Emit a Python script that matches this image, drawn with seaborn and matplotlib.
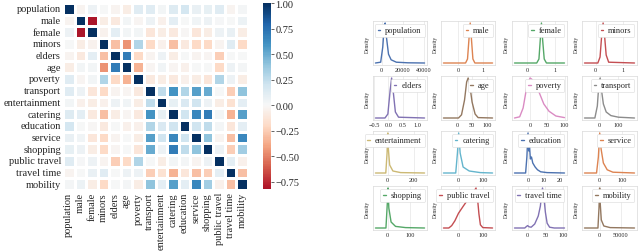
import numpy as np
import pandas as pd
import matplotlib
matplotlib.use("Agg")
import matplotlib.pyplot as plt
import seaborn as sns

labels = ["population", "male", "female", "minors", "elders", "age", "poverty",
          "transport", "entertainment", "catering", "education", "service",
          "shopping", "public travel", "travel time", "mobility"]

# correlation rows
r_population = [1, -0.03, 0.05, 0.0, -0.03, -0.07, 0.12, 0.12, 0.03, 0.13, 0.18, 0.07, 0.08, 0.12, -0.03, 0.02]
r_male = [-0.03, 1, -0.82, -0.08, -0.1, 0.03, -0.02, 0.05, -0.05, 0.1, 0.0, 0.04, 0.05, 0.01, 0.0, 0.06]
r_female = [0.05, -0.82, 1, -0.04, 0.1, 0.03, 0.03, -0.12, -0.08, -0.1, -0.01, -0.12, -0.07, 0.05, 0.07, -0.08]
r_minors = [0.0, -0.08, -0.04, 1, -0.3, -0.45, 0.3, -0.2, -0.05, -0.3, -0.1, -0.2, -0.2, -0.03, 0.12, -0.2]
r_elders = [-0.03, -0.1, 0.1, -0.3, 1, 0.7, -0.2, -0.03, 0.05, -0.07, 0.0, -0.03, -0.02, -0.25, 0.0, 0.0]
r_age = [-0.07, 0.03, 0.03, -0.45, 0.7, 1, -0.35, -0.02, 0.04, -0.02, -0.05, 0.0, 0.0, -0.2, 0.05, 0.02]
r_poverty = [0.12, -0.02, 0.03, 0.3, -0.2, -0.35, 1, -0.1, -0.07, -0.1, -0.05, -0.08, -0.12, 0.3, 0.05, -0.08]
r_transport = [0.12, 0.05, -0.12, -0.2, -0.03, -0.02, -0.1, 1, 0.25, 0.6, 0.3, 0.55, 0.5, 0.0, -0.25, 0.4]
r_entertainment = [0.03, -0.05, -0.08, -0.05, 0.05, 0.04, -0.07, 0.25, 1, 0.08, 0.15, 0.2, 0.05, -0.07, -0.15, 0.1]
r_catering = [0.13, 0.1, -0.1, -0.3, -0.07, -0.02, -0.1, 0.6, 0.08, 1, 0.2, 0.65, 0.7, 0.03, -0.35, 0.55]
r_education = [0.18, 0.0, -0.01, -0.1, 0.0, -0.05, -0.05, 0.3, 0.15, 0.2, 1, 0.2, 0.25, 0.02, -0.12, 0.1]
r_service = [0.07, 0.04, -0.12, -0.2, -0.03, 0.0, -0.08, 0.55, 0.2, 0.65, 0.2, 1, 0.4, -0.03, -0.3, 0.65]
r_shopping = [0.08, 0.05, -0.07, -0.2, -0.02, 0.0, -0.12, 0.5, 0.05, 0.7, 0.25, 0.4, 1, 0.05, -0.25, 0.35]
r_public_travel = [0.12, 0.01, 0.05, -0.03, -0.25, -0.2, 0.3, 0.0, -0.07, 0.03, 0.02, -0.03, 0.05, 1, 0.1, -0.05]
r_travel_time = [-0.03, 0.0, 0.07, 0.12, 0.0, 0.05, 0.05, -0.25, -0.15, -0.35, -0.12, -0.3, -0.25, 0.1, 1, -0.3]
r_mobility = [0.02, 0.06, -0.08, -0.2, 0.0, 0.02, -0.08, 0.4, 0.1, 0.55, 0.1, 0.65, 0.35, -0.05, -0.3, 1]

# density curves (x, relative density)
population_x = [-6000, -1000, 1000, 2500, 3300, 4500, 6500, 9000, 14000, 25000, 41000]
population_y = [0, 0.02, 0.4, 0.95, 1.0, 0.65, 0.22, 0.08, 0.02, 0.005, 0]
male_x = [-0.6, 0.3, 0.38, 0.44, 0.49, 0.54, 0.6, 0.68, 1.4]
male_y = [0, 0, 0.1, 0.6, 1.0, 0.6, 0.1, 0, 0]
female_x = [-0.45, 0.35, 0.43, 0.48, 0.52, 0.56, 0.62, 0.7, 1.35]
female_y = [0, 0, 0.1, 0.6, 1.0, 0.6, 0.1, 0, 0]
minors_x = [-0.4, 0.08, 0.16, 0.22, 0.27, 0.32, 0.38, 0.47, 1.4]
minors_y = [0, 0, 0.15, 0.7, 1.0, 0.7, 0.2, 0.02, 0]
elders_x = [-0.45, -0.12, -0.02, 0.06, 0.11, 0.16, 0.24, 0.35, 1.25]
elders_y = [0, 0, 0.1, 0.7, 1.0, 0.7, 0.15, 0.02, 0]
age_x = [-45, 5, 15, 25, 32, 37, 42, 50, 60, 70, 118]
age_y = [0, 0, 0.08, 0.45, 0.9, 1.0, 0.85, 0.4, 0.1, 0.01, 0]
poverty_x = [-45, -30, -20, -10, 0, 5, 15, 26, 40, 55, 75, 100]
poverty_y = [0, 0.03, 0.25, 0.75, 1.0, 0.97, 0.85, 0.65, 0.35, 0.17, 0.05, 0.01]
transport_x = [-80, -25, -12, -3, 3, 10, 20, 35, 60, 100, 185]
transport_y = [0, 0, 0.3, 0.9, 1.0, 0.7, 0.35, 0.15, 0.06, 0.02, 0]
entertainment_x = [-95, -15, -5, 0, 5, 15, 40, 100, 285]
entertainment_y = [0, 0, 0.5, 1.0, 0.6, 0.2, 0.05, 0.01, 0]
catering_x = [-60, -10, -3, 2, 8, 20, 45, 90, 140]
catering_y = [0, 0, 0.5, 1.0, 0.5, 0.15, 0.05, 0.01, 0]
education_x = [-8.5, -1.5, -0.7, 0, 0.5, 1.0, 1.5, 2.2, 3, 4.5, 6, 8, 12, 23]
education_y = [0, 0, 0.4, 1.0, 0.55, 0.65, 0.35, 0.4, 0.25, 0.15, 0.08, 0.03, 0.01, 0]
service_x = [-65, -12, -4, 2, 8, 18, 35, 60, 155]
service_y = [0, 0, 0.4, 1.0, 0.6, 0.25, 0.08, 0.02, 0]
shopping_x = [-55, -8, -2, 1, 5, 15, 35, 80, 165]
shopping_y = [0, 0, 0.6, 1.0, 0.5, 0.15, 0.04, 0.01, 0]
public_travel_x = [-62, -40, -28, -15, 0, 20, 36, 55, 65, 72, 78, 84, 90, 100, 140]
public_travel_y = [0, 0, 0.06, 0.18, 0.37, 0.55, 0.69, 0.83, 0.93, 1.0, 0.75, 0.35, 0.08, 0.01, 0]
travel_time_x = [-37, -8, -3, 0, 4, 10, 20, 30, 36, 40, 42, 45, 50, 55, 62, 75, 104]
travel_time_y = [0, 0, 0.04, 0.06, 0.03, 0.02, 0.1, 0.3, 0.55, 0.9, 1.0, 0.85, 0.4, 0.12, 0.02, 0, 0]
mobility_x = [-36000, -4000, -1500, 0, 1500, 4000, 10000, 25000, 83000]
mobility_y = [0, 0, 0.5, 1.0, 0.6, 0.2, 0.05, 0.01, 0]

curves = [
    (population_x, population_y, [0, 20000, 40000]),
    (male_x, male_y, [0, 1]),
    (female_x, female_y, [0, 1]),
    (minors_x, minors_y, [0, 1]),
    (elders_x, elders_y, [-0.5, 0.0, 0.5, 1.0]),
    (age_x, age_y, [0, 50, 100]),
    (poverty_x, poverty_y, [0, 50, 100]),
    (transport_x, transport_y, [0, 100]),
    (entertainment_x, entertainment_y, [0, 200]),
    (catering_x, catering_y, [0, 100]),
    (education_x, education_y, [0, 10, 20]),
    (service_x, service_y, [0, 100]),
    (shopping_x, shopping_y, [0, 100]),
    (public_travel_x, public_travel_y, [0, 100]),
    (travel_time_x, travel_time_y, [0, 50, 100]),
    (mobility_x, mobility_y, [0, 50000]),
]

sns.set_theme(style="whitegrid")
plt.rcParams['font.family'] = ['Liberation Serif', 'DejaVu Serif']
plt.rcParams['axes.unicode_minus'] = True

fig = plt.figure(figsize=(6.4, 2.53), dpi=100)
W, H = 640, 253

def box(x0, x1, y0, y1):
    return [x0 / W, 1 - y1 / H, (x1 - x0) / W, (y1 - y0) / H]

# heatmap
corr = pd.DataFrame([r_population, r_male, r_female, r_minors, r_elders, r_age,
                     r_poverty, r_transport, r_entertainment, r_catering,
                     r_education, r_service, r_shopping, r_public_travel,
                     r_travel_time, r_mobility], index=labels, columns=labels)
ax_hm = fig.add_axes(box(63, 248, 4, 191))
ax_cb = fig.add_axes(box(263, 271, 4, 190))
sns.heatmap(corr, ax=ax_hm, cbar_ax=ax_cb, cmap="RdBu", center=0,
            linewidths=0.8, linecolor="white", square=False,
            xticklabels=True, yticklabels=True)
ax_hm.tick_params(axis="both", labelsize=7.5, length=0, pad=1.5)
ax_hm.set_xticklabels(labels, rotation=90)
ax_hm.set_yticklabels(labels, rotation=0)
ax_cb.set_yticks([1.0, 0.75, 0.5, 0.25, 0.0, -0.25, -0.5, -0.75])
ax_cb.set_yticklabels(["1.00", "0.75", "0.50", "0.25", "0.00", "\u22120.25", "\u22120.50", "\u22120.75"])
ax_cb.tick_params(labelsize=7.5, length=2, width=0.5, pad=1)

# density grid
palette = sns.color_palette("deep", 10)
cols = [(373, 427), (441, 495), (512, 567), (582, 637)]
rows = [(22, 66), (77, 121), (132, 176), (187, 231)]
for i, (name, (xs, ys, ticks)) in enumerate(zip(labels, curves)):
    r, c = divmod(i, 4)
    ax = fig.add_axes(box(cols[c][0], cols[c][1], rows[r][0], rows[r][1]))
    sns.lineplot(x=xs, y=ys, ax=ax, color=palette[i % 10], linewidth=1.0, label=name)
    ax.set_xticks(ticks)
    ax.set_yticks([])
    ax.set_ylabel("Density", fontsize=4, labelpad=2)
    ax.tick_params(axis="x", labelsize=4.5, length=0, pad=1.5)
    ax.grid(True, axis="x", linewidth=0.4, color="0.88")
    for s in ax.spines.values():
        s.set_linewidth(0.5)
        s.set_color("0.85")
    ax.legend(loc="upper right", fontsize=6, handlelength=0.3, handletextpad=0.6,
              borderpad=0.35, borderaxespad=0.3, frameon=True, framealpha=1,
              edgecolor="0.85", fancybox=True).get_frame().set_linewidth(0.4)

fig.savefig("out.png", dpi=100)
